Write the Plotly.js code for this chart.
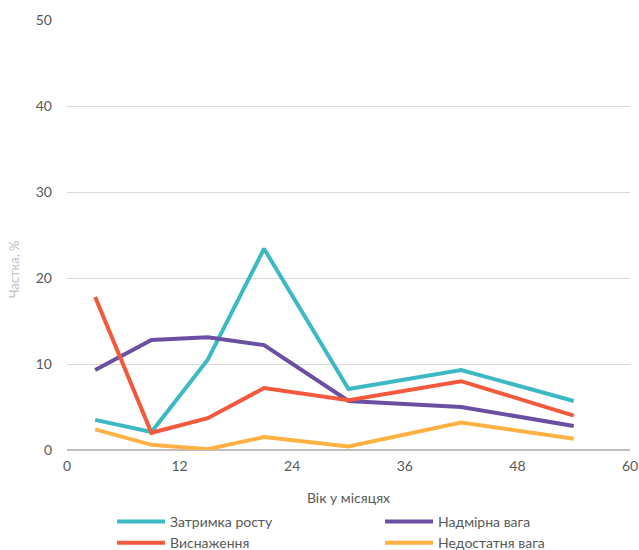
<!DOCTYPE html>
<html><head><meta charset="utf-8">
<script src="https://cdn.plot.ly/plotly-3.0.1.min.js"></script>
<style>body{margin:0}#c{width:639px;height:550px}</style>
</head><body><div id="c"></div>
<script>
const ages = [3, 9, 15, 21, 30, 42, 54];
const stunting = [3.5, 2.1, 10.5, 23.4, 7.1, 9.3, 5.7];
const overweight = [9.3, 12.8, 13.1, 12.2, 5.7, 5.0, 2.8];
const wasting = [17.8, 2.0, 3.7, 7.2, 5.8, 8.0, 4.0];
const underweight = [2.4, 0.6, 0.1, 1.5, 0.4, 3.2, 1.3];
const names = ["Затримка росту", "Надмірна вага", "Виснаження", "Недостатня вага"];
const colors = ["#3DB9C4", "#6B4FA2", "#F3593C", "#FFB144"];
const series = [stunting, overweight, wasting, underweight];
const traces = series.map((s, i) => ({
  x: ages, y: s, type: "scatter", mode: "lines", name: names[i],
  line: {color: colors[i], width: 4}
}));
const layout = {
  width: 639, height: 550,
  margin: {l: 67, r: 9, t: 20, b: 100, autoexpand: false},
  paper_bgcolor: "#fff", plot_bgcolor: "#fff",
  font: {family: "Lato, 'Open Sans', sans-serif", size: 14, color: "#595959"},
  xaxis: {range: [0, 60], tickvals: [0, 12, 24, 36, 48, 60], showgrid: false, zeroline: false,
    showline: false, ticks: "", ticklabelstandoff: 6,
    title: {text: "Вік у місяцях", font: {size: 14, color: "#595959"}, standoff: 20}},
  yaxis: {range: [0, 50], dtick: 10, gridcolor: "#d9d9d9", gridwidth: 1, zeroline: true, zerolinecolor: "#bfbfbf",
    zerolinewidth: 2, ticks: "", ticklabelstandoff: 14},
  annotations: [{text: "Частка, %", xref: "paper", yref: "paper", x: -0.094, y: 0.421,
    xanchor: "center", yanchor: "middle", textangle: -90, showarrow: false,
    font: {size: 13, color: "#bfbfbf"}}],
  legend: {orientation: "h", x: 0.08, xanchor: "left", y: -0.13, yanchor: "top",
    entrywidth: 205, font: {size: 14, color: "#595959"}, tracegroupgap: 0, itemwidth: 48},
  showlegend: true
};
Plotly.newPlot("c", traces, layout, {displayModeBar: false, staticPlot: true});
</script></body></html>
